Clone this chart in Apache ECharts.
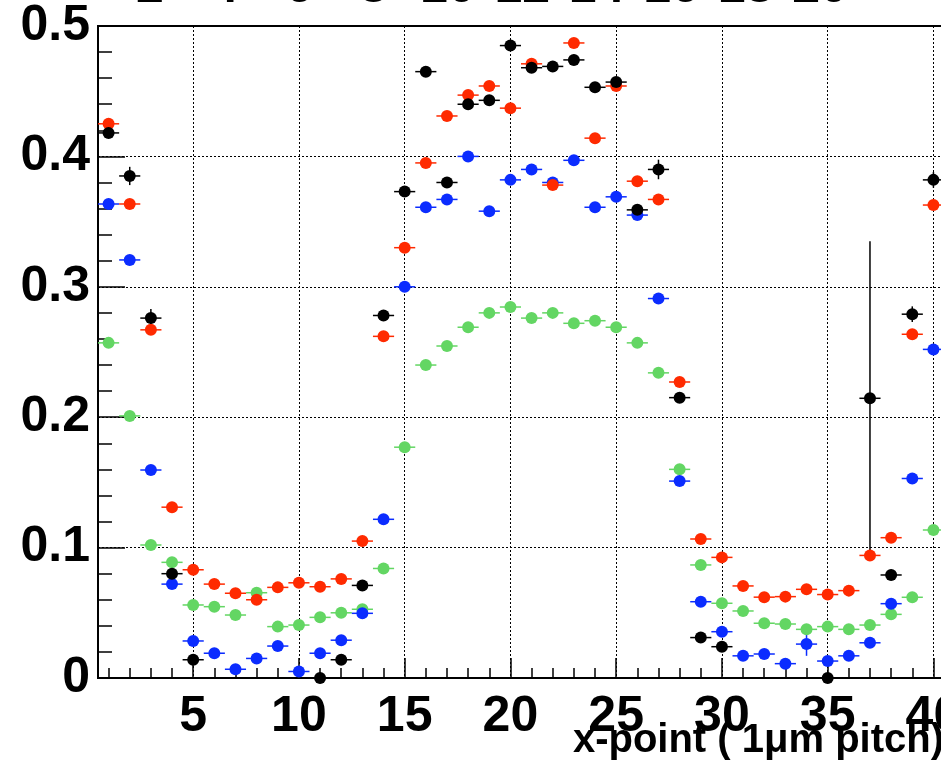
<!DOCTYPE html>
<html><head><meta charset="utf-8">
<script src="https://cdn.jsdelivr.net/npm/echarts@6/dist/echarts.min.js"></script>
<style>html,body{margin:0;padding:0;background:#fff;overflow:hidden}#c{width:941px;height:762px}</style>
</head><body><div id="c"></div>
<script>
const xPoints = [1,2,3,4,5,6,7,8,9,10,11,12,13,14,15,16,17,18,19,20,21,22,23,24,25,26,27,28,29,30,31,32,33,34,35,36,37,38,39,40];
const blackVals = [0.418,0.385,0.276,0.080,0.014,null,null,null,null,null,0.000,0.014,0.071,0.278,0.373,0.465,0.380,0.440,0.443,0.485,0.468,0.469,0.474,0.453,0.457,0.359,0.390,0.215,0.031,0.024,null,null,null,null,0.000,null,0.2145,0.079,0.279,0.382];
const blackErr  = [0.004,0.007,0.007,0.004,0.004,0,0,0,0,0,0.004,0.004,0.004,0.004,0.004,0.004,0.004,0.004,0.004,0.004,0.004,0.004,0.004,0.004,0.004,0.004,0.0075,0.004,0.004,0.004,0,0,0,0,0.004,0,0.1205,0.004,0.006,0.006];
const redVals   = [0.425,0.3635,0.267,0.131,0.083,0.072,0.065,0.060,0.0695,0.073,0.070,0.076,0.105,0.262,0.330,0.395,0.431,0.447,0.454,0.437,0.471,0.378,0.487,0.414,0.454,0.381,0.367,0.227,0.1066,0.0925,0.0706,0.062,0.0624,0.068,0.064,0.067,0.094,0.1076,0.2636,0.3627];
const blueVals  = [0.3635,0.3206,0.1595,0.072,0.0284,0.019,0.0067,0.015,0.0245,0.005,0.019,0.029,0.0496,0.1217,0.300,0.361,0.367,0.400,0.358,0.382,0.390,0.380,0.397,0.361,0.369,0.355,0.291,0.151,0.0585,0.0355,0.017,0.0184,0.011,0.026,0.013,0.017,0.027,0.057,0.153,0.252];
const blueErr   = [0,0,0,0,0,0,0,0,0,0,0,0,0,0,0,0,0,0,0,0,0,0,0,0,0,0,0,0,0,0,0,0,0,0.009,0,0,0,0,0,0];
const greenVals = [0.257,0.201,0.102,0.0887,0.056,0.0547,0.0483,0.0654,0.0394,0.0406,0.0465,0.050,0.0527,0.084,0.177,0.240,0.2546,0.269,0.280,0.2845,0.276,0.280,0.272,0.274,0.269,0.257,0.234,0.160,0.0867,0.0573,0.0514,0.042,0.0414,0.0373,0.0394,0.0373,0.0406,0.0488,0.0619,0.1135];
const xHalfWidth = 0.5;
const xMajorTicks = [5,10,15,20,25,30,35,40];
const xMinorTicks = [1,2,3,4,5,6,7,8,9,10,11,12,13,14,15,16,17,18,19,20,21,22,23,24,25,26,27,28,29,30,31,32,33,34,35,36,37,38,39,40];
const topTicks = [2,4,6,8,10,12,14,16,18,20];
const xTitle = 'x-point ( 1\u03bcm pitch)';

const FONT = "'Liberation Sans', Arial, Helvetica, sans-serif";
const colors = {black:'#000000', red:'#ff2a00', blue:'#0b2cff', green:'#63d663'};

function pts(vals, errs){
  const out = [];
  for (let i = 0; i < xPoints.length; i++) {
    if (vals[i] === null) continue;
    out.push([xPoints[i], vals[i], errs ? errs[i] : 0]);
  }
  return out;
}
function errSeries(data, color){
  return {
    type:'custom', xAxisIndex:0, yAxisIndex:0, data:data, silent:true,
    renderItem:function(params, api){
      const x = api.value(0), y = api.value(1), e = api.value(2);
      const a = api.coord([x - xHalfWidth, y]), b = api.coord([x + xHalfWidth, y]);
      const children = [{type:'line', shape:{x1:a[0],y1:a[1],x2:b[0],y2:b[1]}, style:{stroke:color, lineWidth:1.5}}];
      if (e > 0) {
        const c = api.coord([x, y - e]), d = api.coord([x, y + e]);
        children.push({type:'line', shape:{x1:c[0],y1:c[1],x2:d[0],y2:d[1]}, style:{stroke:color, lineWidth:1.5}});
      }
      return {type:'group', children:children};
    }
  };
}
function dotSeries(data, color){
  return {type:'scatter', xAxisIndex:0, yAxisIndex:0, data:data, symbol:'circle', symbolSize:12, clip:false,
    itemStyle:{color:color, opacity:1}, silent:true};
}

const chart = echarts.init(document.getElementById('c'), null, {renderer:'canvas'});
chart.setOption({
  animation:false,
  backgroundColor:'#ffffff',
  title:{text:xTitle, right:-3, top:721, padding:0,
    textStyle:{fontFamily:FONT, fontWeight:'bold', fontSize:40, color:'#000'}},
  grid:[
    {left:98, top:26, width:846, height:652, show:true, borderColor:'#000', borderWidth:2, backgroundColor:'transparent', outerBoundsMode:'none', containLabel:false},
    {left:150, top:-69, width:670, height:30, outerBoundsMode:'none', containLabel:false}
  ],
  xAxis:[
    {type:'value', gridIndex:0, position:'bottom', min:0.5, max:40.5,
      axisLine:{show:true, onZero:false, lineStyle:{color:'#000', width:2}},
      axisTick:{show:true, inside:true, length:20, customValues:xMajorTicks, lineStyle:{color:'#000', width:1.5}},
      axisLabel:{show:true, customValues:xMajorTicks, margin:14, color:'#000', fontFamily:FONT, fontWeight:'bold', fontSize:50, hideOverlap:false},
      splitLine:{show:true, lineStyle:{color:'#000', width:1, type:[2,2]}}},
    {type:'value', gridIndex:0, position:'bottom', min:0.5, max:40.5,
      axisLine:{show:false},
      axisTick:{show:true, inside:true, length:10, customValues:xMinorTicks, lineStyle:{color:'#000', width:1.5}},
      axisLabel:{show:false}, splitLine:{show:false}},
    {type:'value', gridIndex:1, position:'bottom', min:2, max:20, interval:2,
      axisLine:{show:false}, axisTick:{show:false}, splitLine:{show:false},
      axisLabel:{show:true, margin:2, color:'#000', fontFamily:FONT, fontWeight:'bold', fontSize:50,
        formatter:function(v){ return topTicks.indexOf(v) >= 0 ? String(v) : ''; }}}
  ],
  yAxis:[
    {type:'value', gridIndex:0, min:0, max:0.5, interval:0.1,
      axisLine:{show:true, onZero:false, lineStyle:{color:'#000', width:2}},
      axisTick:{show:true, inside:true, length:27, lineStyle:{color:'#000', width:1.5}},
      minorTick:{show:true, splitNumber:5, length:14, lineStyle:{color:'#000', width:1.5}},
      axisLabel:{show:true, margin:8, padding:[10,0,0,0], color:'#000', fontFamily:FONT, fontWeight:'bold', fontSize:50,
        formatter:function(v){ return String(+v.toFixed(1)); }},
      splitLine:{show:true, lineStyle:{color:'#000', width:1, type:[2,2]}}},
    {type:'value', gridIndex:1, show:false}
  ],
  series:[
    errSeries(pts(greenVals), colors.green), dotSeries(pts(greenVals), colors.green),
    errSeries(pts(blueVals, blueErr), colors.blue), dotSeries(pts(blueVals, blueErr), colors.blue),
    errSeries(pts(redVals), colors.red), dotSeries(pts(redVals), colors.red),
    errSeries(pts(blackVals, blackErr), colors.black), dotSeries(pts(blackVals, blackErr), colors.black)
  ]
});
</script></body></html>
